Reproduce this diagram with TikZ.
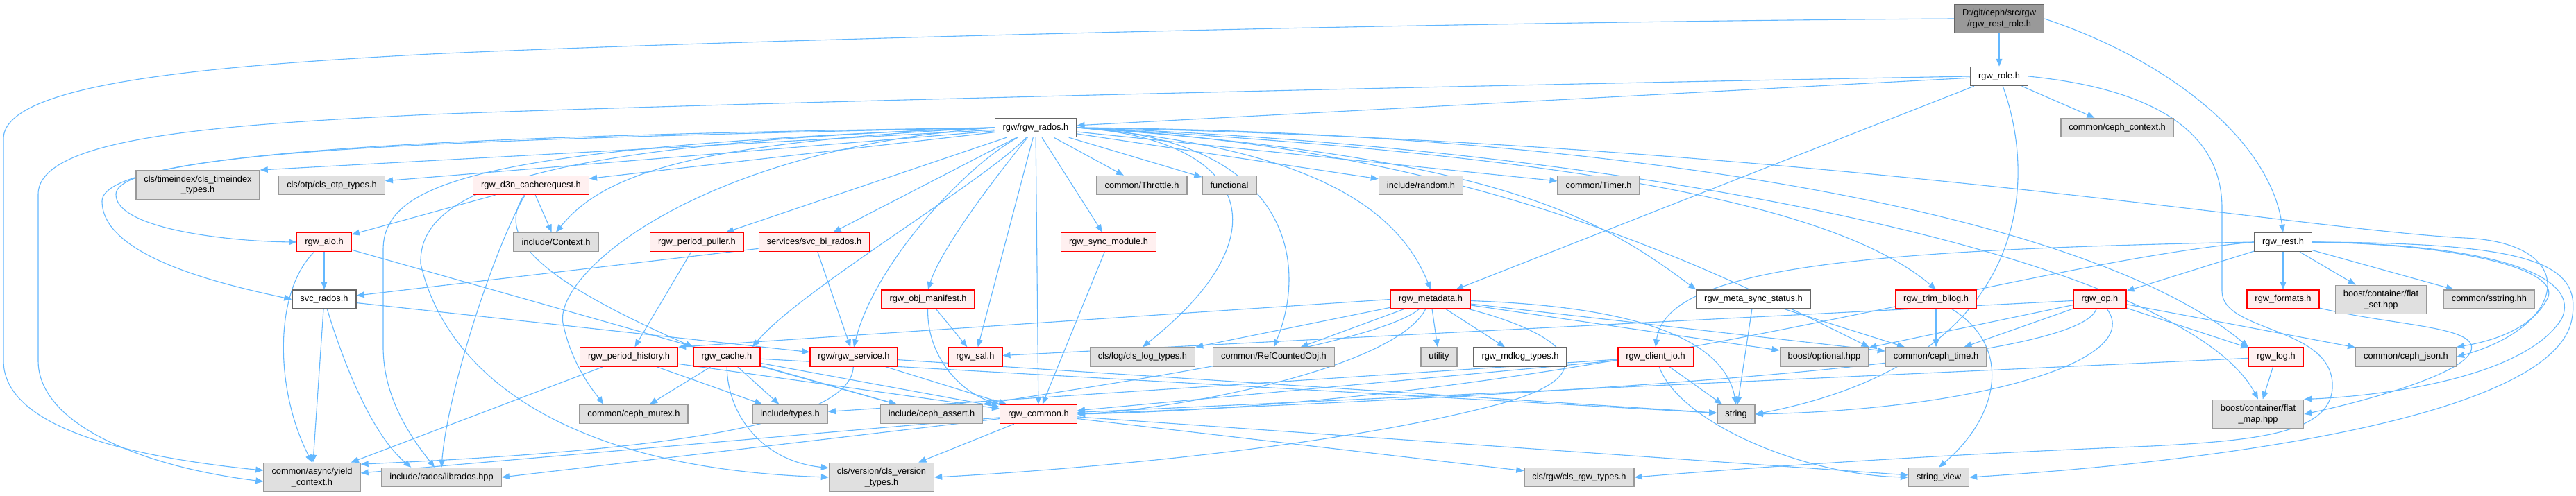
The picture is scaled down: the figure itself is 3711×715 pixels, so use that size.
\documentclass[tikz,border=0pt]{standalone}
\usepackage{fontspec}
\setmainfont{Liberation Sans}
\usetikzlibrary{arrows.meta}
\definecolor{edgeblue}{RGB}{99,184,255}
\definecolor{boxgray}{RGB}{224,224,224}
\definecolor{linegray}{RGB}{153,153,153}
\definecolor{boxpink}{RGB}{255,240,240}
\definecolor{linered}{RGB}{255,0,0}
\definecolor{linedark}{RGB}{102,102,102}
\pgfdeclarelayer{back}
\pgfdeclarelayer{edges}
\pgfsetlayers{back,edges,main}
\tikzset{
  hdrbox/.style={draw=#1, line width=0.7pt, inner xsep=5.75pt, inner ysep=3.5pt,
    minimum height=13.5pt, align=center, font=\fontsize{6.4}{7.8}\selectfont},
  graybox/.style={hdrbox=linegray, fill=boxgray},
  redbox/.style={hdrbox=linered, fill=boxpink},
  whitebox/.style={hdrbox=linedark, fill=white},
  rootbox/.style={hdrbox=linedark, fill=linegray},
  dep/.style={-{Triangle[length=5.5pt,width=4.4pt]}, line width=0.55pt, draw=edgeblue},
}

\begin{document}
\begin{tikzpicture}[x=0.5pt, y=-0.5pt]

      \begin{pgfonlayer}{back}
      \fill[white] (0,0) rectangle (3711,715);
      \end{pgfonlayer}
      \useasboundingbox (0,0) rectangle (3711,715);

      %% ---- expanded headers ----
      \node[rootbox] (root) at (2880,27) {D:/git/ceph/src/rgw\\/rgw\_rest\_role.h};
      \foreach \nm/\px/\py/\lbl in {role/2880/110/{rgw\_role.h},
                                     rados/1492/184/{rgw/rgw\_rados.h},
                                     rest/3289/349/{rgw\_rest.h},
                                     svcrados/467/431.5/{svc\_rados.h},
                                     metasync/2526/431.5/{rgw\_meta\_sync\_status.h},
                                     mdlog/2190/514.5/{rgw\_mdlog\_types.h}}{
        \node[whitebox] (\nm) at (\px,\py) {\lbl};}

      %% ---- headers with hidden includes ----
      \foreach \nm/\px/\py/\lbl in {dtn/765/267/{rgw\_d3n\_cacherequest.h},
                                     aio/467/349/{rgw\_aio.h},
                                     puller/1004/349/{rgw\_period\_puller.h},
                                     birados/1173/349/{services/svc\_bi\_rados.h},
                                     syncmod/1597/349/{rgw\_sync\_module.h},
                                     manifest/1337/431.5/{rgw\_obj\_manifest.h},
                                     metadata/2061/431.5/{rgw\_metadata.h},
                                     trimbilog/2789/431.5/{rgw\_trim\_bilog.h},
                                     op/3025/431.5/{rgw\_op.h},
                                     formats/3289/431.5/{rgw\_formats.h},
                                     perhist/906/514.5/{rgw\_period\_history.h},
                                     cache/1047/514.5/{rgw\_cache.h},
                                     service/1230/514.5/{rgw/rgw\_service.h},
                                     sal/1405/514.5/{rgw\_sal.h},
                                     clientio/2385/514.5/{rgw\_client\_io.h},
                                     log/3279/514.5/{rgw\_log.h},
                                     common/1496/597/{rgw\_common.h}}{
        \node[redbox] (\nm) at (\px,\py) {\lbl};}

      %% ---- system and external headers ----
      \foreach \nm/\px/\py/\lbl in {cephctx/3050/184/{common/ceph\_context.h},
                                     timeidx/285/266.5/{cls/timeindex/cls\_timeindex\\\_types.h},
                                     otp/478/267/{cls/otp/cls\_otp\_types.h},
                                     throttle/1645/267/{common/Throttle.h},
                                     functional/1771/267/{functional},
                                     random/2047/267/{include/random.h},
                                     timer/2303/267/{common/Timer.h},
                                     context/801/349/{include/Context.h},
                                     flatset/3430/432/{boost/container/flat\\\_set.hpp},
                                     sstring/3586/431.5/{common/sstring.hh},
                                     clslog/1646/514.5/{cls/log/cls\_log\_types.h},
                                     refobj/1835/514.5/{common/RefCountedObj.h},
                                     utility/2073/514.5/{utility},
                                     optional/2628/514.5/{boost/optional.hpp},
                                     cephtime/2789/514.5/{common/ceph\_time.h},
                                     cephjson/3466/514.5/{common/ceph\_json.h},
                                     mutex/913/597/{common/ceph\_mutex.h},
                                     types/1138/597/{include/types.h},
                                     assert/1342/597/{include/ceph\_assert.h},
                                     string/2501/597/{string},
                                     flatmap/3253/597/{boost/container/flat\\\_map.hpp},
                                     yield/449.5/688/{common/async/yield\\\_context.h},
                                     librados/636/688/{include/rados/librados.hpp},
                                     clsversion/1270/688/{cls/version/cls\_version\\\_types.h},
                                     clsrgw/2275/688/{cls/rgw/cls\_rgw\_types.h},
                                     strview/2793/688/{string\_view}}{
        \node[graybox] (\nm) at (\px,\py) {\lbl};}

      \begin{pgfonlayer}{edges}
      %% ---- short includes ----
      \foreach \a/\b in {root/role, role/rados, role/cephctx, role/metadata,
          rados/timeidx.north east, rados/otp, rados/dtn, rados/puller, rados/birados,
          rados/sal, rados/common, rados/syncmod, rados/throttle, rados/functional,
          rados/random, rados/timer,
          dtn/aio, dtn/context, aio/svcrados, birados/svcrados, birados/service,
          svcrados/service, svcrados/yield, puller/perhist, syncmod/common, manifest/sal,
          perhist/types, perhist/yield, perhist/common,
          cache/mutex, cache/types, cache/assert, cache/common, cache/string, aio/assert,
          service/common, service/string,
          metadata.west/perhist.north east, metadata/clslog.north east, metadata/refobj,
          metadata/utility, metadata/mdlog, metadata/optional, metadata/cephtime,
          metasync/string, metasync/cephtime, trimbilog/cephtime,
          op/sal, op/optional, op/cephtime, op/cephjson, op/log,
          rest/formats, rest/flatset, rest/sstring, rest/op,
          clientio/types, clientio/common, clientio/string,
          log/flatmap, log/common,
          common/librados.east, common/clsversion, common/clsrgw, common/strview, common/yield}{
        \draw[dep] (\a) -- (\b);}

      %% ---- long routes from the top ----
      \draw[dep] (root.west) .. controls (2000,32) and (1000,60) .. (620,78)
                 .. controls (300,95) and (5,120) .. (5,200) -- (5,520)
                 .. controls (5,620) and (200,660) .. (yield.172);
      \draw[dep] (root.east) .. controls (3120,85) and (3270,200) .. (rest.north);
      \draw[dep] (role.west) .. controls (2000,125) and (1000,150) .. (620,165)
                 .. controls (300,180) and (55,200) .. (55,280) -- (55,520)
                 .. controls (55,610) and (200,672) .. (yield.185);
      \draw[dep] (role) .. controls (2935,260) and (2930,520) .. (string.east);
      \draw[dep] (role.east) .. controls (3120,130) and (3201,200) .. (3201,300) -- (3201,420)
                 .. controls (3201,480) and (3365,470) .. (3360,560)
                 .. controls (3355,625) and (3250,635) .. (3100,643)
                 .. controls (2800,655) and (2550,672) .. (clsrgw.east);

      %% ---- rgw_rados.h fan ----
      \draw[dep] (rados.west) .. controls (700,200) and (168,215) .. (167,280)
                 .. controls (166,330) and (330,348) .. (aio.west);
      \draw[dep] (rados.west) .. controls (700,195) and (147,215) .. (147,290)
                 .. controls (147,372) and (330,412) .. (svcrados.west);
      \draw[dep] (rados.west) .. controls (1000,205) and (870,250) .. (context.north);
      \draw[dep] (rados.west) .. controls (700,212) and (552,260) .. (552,360) -- (552,500)
                 .. controls (552,580) and (600,640) .. (librados.125);
      \draw[dep] (rados.west) .. controls (750,208) and (603,280) .. (606,380)
                 .. controls (640,530) and (800,675) .. (clsversion.west);
      \draw[dep] (rados.west) .. controls (1000,215) and (790,400) .. (812,470)
                 .. controls (825,530) and (860,570) .. (mutex.162);
      \draw[dep] (rados) .. controls (1420,260) and (1150,420) .. (cache.21);
      \draw[dep] (rados) .. controls (1390,240) and (1260,380) .. (service.north);
      \draw[dep] (rados) .. controls (1430,260) and (1355,360) .. (manifest.north);
      \draw[dep] (rados.east) .. controls (1790,200) and (1860,330) .. (clslog.north);
      \draw[dep] (rados.east) .. controls (1860,200) and (1885,380) .. (refobj.north);
      \draw[dep] (rados.east) .. controls (1870,212) and (2010,290) .. (metadata.north);
      \draw[dep] (rados.east) .. controls (2150,225) and (2300,310) .. (metasync.north west);
      \draw[dep] (rados.east) .. controls (2120,215) and (2450,380) .. (optional.north east);
      \draw[dep] (rados.east) .. controls (2300,225) and (2650,300) .. (trimbilog.north);
      \draw[dep] (rados.east) .. controls (2300,190) and (3000,300) .. (log.north west);
      \draw[dep] (rados.east) .. controls (2400,215) and (3150,380) .. (flatmap.north);
      \draw[dep] (rados.east) .. controls (2600,205) and (3300,330) .. (3550,343)
                 .. controls (3720,350) and (3700,470) .. (cephjson.east);

      %% ---- middle rows ----
      \draw[dep] (aio) .. controls (395,420) and (395,560) .. (yield.north);
      \draw[dep] (svcrados) .. controls (500,540) and (540,630) .. (librados.162);
      \draw[dep] (dtn) .. controls (715,350) and (645,560) .. (librados.north);
      \draw[dep] (dtn) .. controls (715,340) and (770,400) .. (cache.north west);
      \draw[dep] (manifest) .. controls (1335,510) and (1380,565) .. (common.north west);
      \draw[dep] (service) .. controls (1225,620) and (900,652) .. (yield.15);
      \draw[dep] (cache) .. controls (1048,600) and (1100,665) .. (clsversion.170);
      \draw[dep] (metadata) .. controls (2250,480) and (2330,540) .. (2150,585)
                 .. controls (1900,650) and (1500,680) .. (clsversion.east);
      \draw[dep] (metadata) .. controls (2300,440) and (2480,470) .. (string.north);
      \draw[dep] (metadata) .. controls (1980,500) and (1550,560) .. (assert.north east);
      \draw[dep] (metadata) .. controls (2010,530) and (1700,590) .. (common.east);
      \draw[dep] (trimbilog) .. controls (2900,500) and (2880,600) .. (strview.north);
      \draw[dep] (clientio) .. controls (2420,610) and (2600,685) .. (strview.west);
      \draw[dep] (op) .. controls (3090,520) and (2850,590) .. (string.east);
      \draw[dep] (op) .. controls (2990,530) and (2200,570) .. (common.east);

      %% ---- rgw_rest.h routes ----
      \draw[dep] (rest.west) .. controls (2650,360) and (2400,390) .. (clientio.north);
      \draw[dep] (rest.west) .. controls (2900,380) and (2300,580) .. (common.east);
      \draw[dep] (rest.east) .. controls (3550,352) and (3690,390) .. (3670,430)
                 .. controls (3650,470) and (3600,490) .. (cephjson.north east);
      \draw[dep] (rest.east) .. controls (3600,352) and (3720,400) .. (3690,460)
                 .. controls (3640,540) and (3450,570) .. (flatmap.north east);
      \draw[dep] (rest.east) .. controls (3650,350) and (3720,380) .. (3705,460)
                 .. controls (3680,600) and (3200,665) .. (strview.east);
      \draw[dep] (formats) .. controls (3450,470) and (3570,470) .. (3560,505)
                 .. controls (3550,540) and (3400,580) .. (flatmap.east);
      \end{pgfonlayer}
      \end{tikzpicture}
\end{document}
